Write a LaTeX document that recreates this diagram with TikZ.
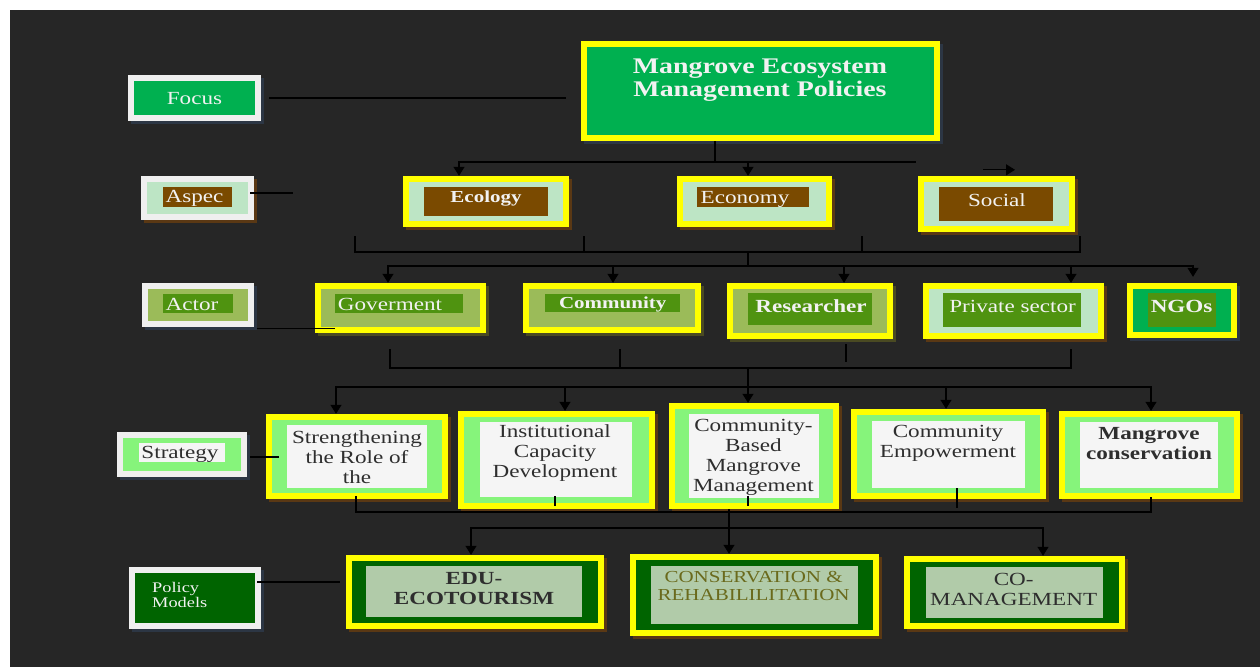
\documentclass[tikz,border=0pt]{standalone}
\usepackage{fontspec}
\setmainfont[FakeStretch=1.25]{Liberation Serif}
\usepackage{xcolor}
\usetikzlibrary{arrows.meta, positioning, calc, shadows}

\definecolor{bg}{HTML}{262626}
\definecolor{frameY}{HTML}{FFFF00}
\definecolor{frameW}{HTML}{EFEFEF}
\definecolor{grn}{HTML}{00B050}
\definecolor{mint}{HTML}{BDE5C5}
\definecolor{brn}{HTML}{7A4A00}
\definecolor{olv}{HTML}{9BBB59}
\definecolor{leaf}{HTML}{4F9310}
\definecolor{lime}{HTML}{86F47B}
\definecolor{paper}{HTML}{F5F5F5}
\definecolor{dgrn}{HTML}{006400}
\definecolor{sage}{HTML}{B1CBA9}
\definecolor{txtW}{HTML}{F2F2F2}
\definecolor{txtD}{HTML}{2E2E2E}
\definecolor{txtO}{HTML}{6A6A1C}
\definecolor{shB}{HTML}{5A3814}
\definecolor{shO}{HTML}{4A4A22}
\definecolor{shS}{HTML}{2C3644}

\newcommand\fnt{\fontsize{18.5}{20}\selectfont}

\tikzset{
  cell/.style={rectangle, fill=#1, inner sep=0pt},
  infill/.style={path picture={\fill[#1] ([xshift=6pt,yshift=-6pt]path picture bounding box.north west) rectangle ([xshift=-6pt,yshift=6pt]path picture bounding box.south east);}},
  tbox/.style={rectangle, fill=#1, inner sep=0pt},
  dshadow/.style={drop shadow={shadow xshift=3pt, shadow yshift=-3pt, fill=#1, opacity=1}},
  lbl/.style={inner sep=0pt, align=center, text=txtW, font=\fnt, yshift=-1.5pt},
}

\begin{document}
\begin{tikzpicture}[x=1pt, y=-1pt,
  wire/.style={line width=1.1pt},
  arr/.style={-{Triangle[length=9pt, width=11pt]}, line width=1.1pt}]

% canvas
\useasboundingbox (0,0) rectangle (1260,667);
\fill[white] (0,0) rectangle (1260,667);
\fill[bg] (10,10) rectangle (1260,667);

% level labels (left column)
\node[cell=frameW, infill=grn, minimum width=133, minimum height=46, dshadow=shS] (focus) at (194.5,98) {};
\node[lbl] (focusL) at (194.5,97) {Focus};
\node[cell=frameW, infill=mint, minimum width=113, minimum height=44, dshadow=shB] (aspec) at (197.5,198) {};
\node[tbox=brn, minimum width=69, minimum height=20] (aspecT) at (197.5,197) {};
\node[lbl] (aspecL) at (194.5,197) {Aspec};
\node[cell=frameW, infill=olv, minimum width=112, minimum height=44, dshadow=shS] (actor) at (198,305) {};
\node[tbox=leaf, minimum width=70, minimum height=19] (actorT) at (198,303.5) {};
\node[lbl] (actorL) at (192,303) {Actor};
\node[cell=frameW, infill=lime, minimum width=130, minimum height=45, dshadow=shS] (strat) at (182,454.5) {};
\node[tbox=paper, minimum width=86, minimum height=19] (stratT) at (182,452.5) {};
\node[lbl, text=txtD] (stratL) at (180,452.5) {Strategy};
\node[cell=frameW, infill=dgrn, minimum width=132, minimum height=62, dshadow=shS] (model) at (195,598) {};
\node[lbl, align=left, anchor=west, font=\fontsize{14.7}{15}\selectfont] (modelL) at (152,593.5) {Policy\\Models};

% focus
\node[cell=frameY, infill=grn, minimum width=359, minimum height=100, dshadow=shS] (mgmt) at (760.5,91) {};
\node[lbl, font=\fontsize{22.3}{23}\selectfont\bfseries] (mgmtL) at (760,78.5) {Mangrove Ecosystem\\Management Policies};

% aspects
\node[cell=frameY, infill=mint, minimum width=166, minimum height=51, dshadow=shB] (eco) at (486,201.5) {};
\node[tbox=brn, minimum width=124, minimum height=29] (ecoT) at (486,201.5) {};
\node[lbl, font=\fontsize{16.8}{18}\selectfont\bfseries] (ecoL) at (486,197.5) {Ecology};
\node[cell=frameY, infill=mint, minimum width=155, minimum height=51, dshadow=shB] (econ) at (754.5,201.5) {};
\node[tbox=brn, minimum width=112, minimum height=20] (econT) at (753,197) {};
\node[lbl] (econL) at (745,198) {Economy};
\node[cell=frameY, infill=mint, minimum width=157, minimum height=56, dshadow=shB] (soc) at (996.5,204) {};
\node[tbox=brn, minimum width=114, minimum height=34] (socT) at (996,204) {};
\node[lbl] (socL) at (997,199) {Social};

% actors
\node[cell=frameY, infill=olv, minimum width=171, minimum height=50, dshadow=shO] (gov) at (400.5,308) {};
\node[tbox=leaf, minimum width=128, minimum height=19] (govT) at (399,303.5) {};
\node[lbl] (govL) at (390,303) {Goverment};
\node[cell=frameY, infill=olv, minimum width=178, minimum height=50, dshadow=shO] (comm) at (612,308) {};
\node[tbox=leaf, minimum width=135, minimum height=18] (commT) at (612.5,303) {};
\node[lbl, font=\fontsize{16.8}{18}\selectfont\bfseries] (commL) at (612.7,303) {Community};
\node[cell=frameY, infill=olv, minimum width=166, minimum height=56, dshadow=shO] (res) at (810,311) {};
\node[tbox=leaf, minimum width=124, minimum height=32] (resT) at (810,309) {};
\node[lbl, font=\fnt\bfseries] (resL) at (811,304.5) {Researcher};
\node[cell=frameY, infill=mint, minimum width=181, minimum height=56, dshadow=shB] (priv) at (1013.5,311) {};
\node[tbox=leaf, minimum width=138, minimum height=34] (privT) at (1012,310) {};
\node[lbl] (privL) at (1012.5,304.5) {Private sector};
\node[cell=frameY, infill=grn, minimum width=110, minimum height=55, dshadow=shS] (ngo) at (1182,310.5) {};
\node[tbox=leaf, minimum width=68, minimum height=34] (ngoT) at (1182,310) {};
\node[lbl, font=\fnt\bfseries] (ngoL) at (1181.6,304.5) {NGOs};

% strategies
\node[cell=frameY, infill=lime, minimum width=182, minimum height=85, dshadow=shB] (streng) at (357,456.5) {};
\node[tbox=paper, minimum width=140, minimum height=63] (strengT) at (357,456.5) {};
\node[lbl, text=txtD] (strengL) at (357,456) {Strengthening\\the Role of\\the};
\node[cell=frameY, infill=lime, minimum width=197, minimum height=98, dshadow=shB] (inst) at (556.5,460) {};
\node[tbox=paper, minimum width=152, minimum height=75] (instT) at (556,459.5) {};
\node[lbl, text=txtD] (instL) at (555,452) {Institutional\\Capacity\\Development};
\node[cell=frameY, infill=lime, minimum width=170, minimum height=106, dshadow=shB] (cbm) at (754,456) {};
\node[tbox=paper, minimum width=130, minimum height=84] (cbmT) at (754,456) {};
\node[lbl, text=txtD] (cbmL) at (753.4,455.5) {Community-\\Based\\Mangrove\\Management};
\node[cell=frameY, infill=lime, minimum width=195, minimum height=90, dshadow=shB] (emp) at (948.5,454) {};
\node[tbox=paper, minimum width=153, minimum height=67] (empT) at (948.5,454.5) {};
\node[lbl, text=txtD] (empL) at (948,442) {Community\\Empowerment};
\node[cell=frameY, infill=lime, minimum width=181, minimum height=88, dshadow=shB] (mcon) at (1149.5,455) {};
\node[tbox=paper, minimum width=138, minimum height=66] (mconT) at (1149,455) {};
\node[lbl, text=txtD, font=\fnt\bfseries] (mconL) at (1149,442) {Mangrove\\conservation};

% policy models
\node[cell=frameY, infill=dgrn, minimum width=258, minimum height=74, dshadow=shB] (edu) at (475,592) {};
\node[tbox=sage, minimum width=216, minimum height=51] (eduT) at (474,591.5) {};
\node[lbl, text=txtD, font=\fnt\bfseries] (eduL) at (474,587) {EDU-\\ECOTOURISM};
\node[cell=frameY, infill=dgrn, minimum width=249, minimum height=82, dshadow=shB] (cons) at (754.5,595) {};
\node[tbox=sage, minimum width=207, minimum height=58] (consT) at (754.5,595) {};
\node[lbl, text=txtO, font=\fontsize{16.8}{18}\selectfont] (consL) at (753.6,584) {CONSERVATION \&\\REHABILILITATION};
\node[cell=frameY, infill=dgrn, minimum width=221, minimum height=73, dshadow=shB] (comg) at (1014.5,592.5) {};
\node[tbox=sage, minimum width=177, minimum height=51] (comgT) at (1014.5,592.5) {};
\node[lbl, text=txtD] (comgL) at (1013.7,588) {CO-\\MANAGEMENT};

% level label leaders
\draw[wire] ([xshift=8pt]focus.east) -- ($(focus.east -| mgmt.west)+(-15,0)$);
\draw[wire] ($(aspec.east)+(-4,-5)$) -- ($(aspec.east)+(39,-5)$);
\draw[wire] ($(actor.south east)+(3,1)$) -- ($(gov.south west)+(20,-5)$);
\draw[wire] ($(strat.east)+(3,2.5)$) -- ($(streng.west)+(13,0.5)$);
\draw[wire] ($(model.east)+(-4,-16)$) -- ($(edu.west)+(-6,-10)$);

% focus -> aspects
\coordinate (j1) at (715,162);
\draw[wire] (mgmt.south -| j1) -- (j1);
\draw[arr] (j1) -| ([xshift=-27pt]eco.north);
\draw[arr] (j1) -| ([xshift=-6.5pt]econ.north);
\draw[wire] (j1) -- ($(j1 -| soc.west)+(-2,0)$);
\draw[arr] ($(soc.north)+(-13.5,-6)$) -- ($(soc.north)+(18.5,-6)$);

% aspects -> actors
\coordinate (j2) at (748,252);
\coordinate (j3) at (748,266);
\foreach \x [count=\i] in {355,584,862,1080} \coordinate (a\i) at (\x,236);
\draw[wire] (a1) |- (j2) -| (a4);
\draw[wire] (a2) -- (a2 |- j2);
\draw[wire] (a3) -- (a3 |- j2);
\draw[wire] (j2) -- (j3);
\foreach \n/\dx in {gov/-12.5, comm/1, res/34, priv/57.5}
  \draw[arr] (j3) -| ([xshift=\dx pt]\n.north);
\draw[arr] (j3) -| ($(ngo.north)+(11,-6)$);

% actors -> strategies
\coordinate (j4) at (748,368);
\coordinate (j5) at (748,387);
\foreach \x [count=\i] in {390,620,1071} \coordinate (b\i) at (\x,349);
\coordinate (b4) at (846,344);
\draw[wire] (b1) |- (j4) -| (b3);
\draw[wire] (b2) -- (b2 |- j4);
\draw[wire] (b4) -- ++(0,18);
\draw[arr] (j4) -- (cbm.north -| j4);
\foreach \n/\dx in {streng/-21, inst/8.5, emp/-2.5, mcon/1.5}
  \draw[arr] (j5) -| ([xshift=\dx pt]\n.north);

% strategies -> policy models
\coordinate (j6) at (729,512);
\coordinate (j7) at (729,528);
\foreach \x/\y [count=\i] in {356/496, 555/496, 748/496, 957/488, 1151/497} \coordinate (c\i) at (\x,\y);
\draw[wire] (c1) |- (j6) -| (c5);
\draw[wire] (c2) -- ++(0,10);
\draw[wire] (c3) -- ++(0,10);
\draw[wire] (c4) -- ++(0,20);
\draw[wire] (cbm.south -| j7) -- (j7);
\foreach \n/\dx in {edu/-4, cons/-25.5, comg/28.5}
  \draw[arr] (j7) -| ([xshift=\dx pt]\n.north);
\end{tikzpicture}
\end{document}
